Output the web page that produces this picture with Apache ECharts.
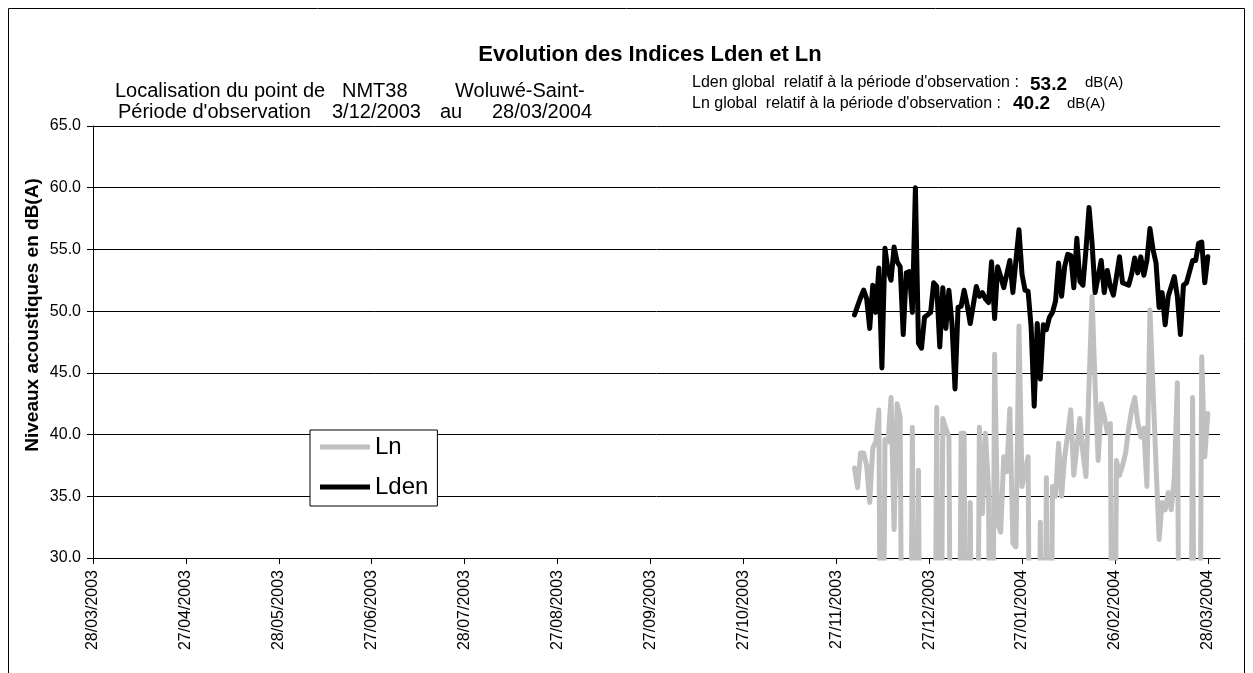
<!DOCTYPE html>
<html><head><meta charset="utf-8">
<script src="https://cdn.jsdelivr.net/npm/echarts@6/dist/echarts.min.js"></script>
<style>html,body{margin:0;padding:0;background:#fff}#c{width:1253px;height:673px}</style>
</head><body><div id="c"></div>
<script>
// Day offsets are counted from 28/03/2003; first measurement 3/12/2003 = day 250
const startDay = 250;
const xTickLabels = ['28/03/2003','27/04/2003','28/05/2003','27/06/2003','28/07/2003','27/08/2003',
  '27/09/2003','27/10/2003','27/11/2003','27/12/2003','27/01/2004','26/02/2004','28/03/2004'];
const yTickLabels = ['30.0','35.0','40.0','45.0','50.0','55.0','60.0','65.0'];
const seriesNames = ['Ln','Lden'];
// Ln (night) daily values, dB(A); 0 = off-scale below 30
const lnValues = [
  37.3, 35.7, 38.5, 38.5, 37.5, 34.5, 38.9, 39.4, 42.0, 0,
  39.6, 39.4, 43.0, 32.3, 42.5, 41.4, 0, 0, 0, 40.6,
  0, 37.1, 0, 0, 0, 0, 0, 42.2, 0, 41.3,
  40.5, 39.8, 0, 0, 0, 40.1, 40.1, 0, 34.5, 0,
  0, 40.6, 33.6, 40.1, 35.6, 0, 46.5, 32.8, 32.1, 38.2,
  37.0, 42.1, 31.2, 30.9, 48.8, 35.8, 37.0, 38.2, 0, 0,
  0, 32.9, 0, 36.5, 0, 35.8, 35.0, 39.3, 35.0, 38.2,
  40.0, 42.0, 36.7, 39.0, 41.3, 38.5, 36.6, 44.0, 51.2, 44.0,
  37.9, 42.5, 41.5, 40.2, 40.9, 0, 37.9, 36.7, 37.5, 38.5,
  40.5, 42.0, 43.0, 41.0, 39.8, 40.5, 35.8, 50.1, 43.8, 37.5,
  31.5, 34.5, 33.9, 35.3, 33.9, 36.5, 44.2, 0, 0, 0,
  0, 43.0, 0, 0, 46.3, 38.2, 41.7
];
// Lden daily values, dB(A)
const ldenValues = [
  49.7, 50.4, 51.1, 51.7, 51.0, 48.6, 52.1, 49.9, 53.5, 45.4,
  55.1, 53.3, 52.5, 55.2, 54.0, 53.6, 48.1, 53.1, 53.2, 49.9,
  60.0, 47.4, 47.0, 49.5, 49.7, 49.9, 52.3, 52.0, 47.1, 51.9,
  48.6, 51.7, 49.0, 43.7, 50.3, 50.4, 51.7, 50.5, 49.0, 50.5,
  52.0, 51.2, 51.5, 51.0, 50.7, 54.0, 49.4, 53.6, 52.8, 51.9,
  53.0, 54.1, 51.5, 54.1, 56.6, 53.0, 51.7, 51.6, 48.7, 42.3,
  49.0, 44.5, 48.9, 48.5, 49.5, 49.9, 50.8, 53.9, 51.2, 53.6,
  54.6, 54.5, 51.9, 55.9, 52.4, 52.1, 55.0, 58.4, 55.5, 51.5,
  52.8, 54.1, 51.5, 53.3, 52.0, 51.3, 52.8, 54.4, 52.3, 52.2,
  52.1, 53.0, 54.3, 53.1, 54.4, 52.9, 54.1, 56.7, 55.0, 53.9,
  50.3, 51.5, 48.9, 51.2, 52.0, 52.8, 51.2, 48.1, 52.1, 52.3,
  53.2, 54.1, 54.1, 55.5, 55.6, 52.3, 54.4
];

const FONT = "'Liberation Sans', Arial, sans-serif";
const TICK_STEP = 30.5; // days between date ticks
const xTickValues = xTickLabels.map((_, i) => i * TICK_STEP);
const toPairs = arr => arr.map((v, i) => [startDay + i, v]);
const txt = (x, y, text, font, extra) => ({type: 'text', x, y,
  style: Object.assign({text, font: font + " 'Liberation Sans', Arial", fill: '#000', verticalAlign: 'middle'}, extra || {})});

const chart = echarts.init(document.getElementById('c'), null, {renderer: 'canvas'});
chart.setOption({
  animation: false,
  backgroundColor: '#fff',
  textStyle: {fontFamily: FONT, color: '#000'},
  grid: {left: 93, right: 33, top: 126, bottom: 115, containLabel: false},
  xAxis: {
    type: 'value', min: 0, max: 370, interval: TICK_STEP,
    axisLine: {show: true, lineStyle: {color: '#000', width: 1}},
    axisTick: {show: true, inside: false, length: 6, lineStyle: {color: '#000'}, customValues: xTickValues},
    splitLine: {show: false},
    axisLabel: {
      rotate: 90, margin: 12, fontSize: 16, fontFamily: FONT, color: '#000',
      customValues: xTickValues,
      formatter: v => {
        const k = Math.round(v / TICK_STEP);
        return Math.abs(v - k * TICK_STEP) < 1e-6 ? (xTickLabels[k] || '') : '';
      }
    }
  },
  yAxis: {
    type: 'value', min: 30, max: 65, interval: 5,
    axisLine: {show: true, lineStyle: {color: '#000', width: 1}},
    axisTick: {show: true, inside: false, length: 6, lineStyle: {color: '#000'}},
    splitLine: {show: true, lineStyle: {color: '#000', width: 1}},
    axisLabel: {
      margin: 12, fontSize: 16, fontFamily: FONT, color: '#000',
      formatter: v => yTickLabels[Math.round((v - 30) / 5)]
    }
  },
  legend: {
    data: seriesNames.map(n => ({name: n, icon: 'rect'})),
    orient: 'vertical',
    left: 310, top: 430,
    padding: [4, 9, 6, 10],
    itemWidth: 50, itemHeight: 5, itemGap: 14,
    backgroundColor: '#fff', borderColor: '#000', borderWidth: 1, borderRadius: 0,
    textStyle: {fontSize: 24, fontFamily: FONT, color: '#000', lineHeight: 26}
  },
  series: [
    {name: seriesNames[0], type: 'line', data: toPairs(lnValues), symbol: 'none', clip: true,
     lineStyle: {color: '#c0c0c0', width: 5, cap: 'round', join: 'round'}, itemStyle: {color: '#c0c0c0'}},
    {name: seriesNames[1], type: 'line', data: toPairs(ldenValues), symbol: 'none', clip: true,
     lineStyle: {color: '#000', width: 5, cap: 'round', join: 'round'}, itemStyle: {color: '#000'}}
  ],
  graphic: [
    {type: 'rect', shape: {x: 8.5, y: 8.5, width: 1236, height: 700}, style: {fill: 'none', stroke: '#000', lineWidth: 1}, z: -1},
    txt(650, 55, 'Evolution des Indices Lden et Ln', 'bold 22px', {align: 'center'}),
    txt(115, 91, 'Localisation du point de', '20px'),
    txt(342, 91, 'NMT38', '20px'),
    txt(455, 91, 'Woluwé-Saint-', '20px'),
    txt(118, 112, "Période d'observation", '20px'),
    txt(332, 112, '3/12/2003', '20px'),
    txt(440, 112, 'au', '20px'),
    txt(492, 112, '28/03/2004', '20px'),
    txt(692, 83, "Lden global  relatif à la période d'observation :", '16px'),
    txt(1030, 85, '53.2', 'bold 19px'),
    txt(1085, 83, 'dB(A)', '15px'),
    txt(692, 104, "Ln global  relatif à la période d'observation :", '16px'),
    txt(1013, 104, '40.2', 'bold 19px'),
    txt(1067, 104, 'dB(A)', '15px'),
    {type: 'text', x: 33, y: 315, rotation: Math.PI / 2, style: {text: 'Niveaux acoustiques en dB(A)', font: "bold 19px 'Liberation Sans', Arial", fill: '#000', align: 'center', verticalAlign: 'middle'}}
  ]
});
</script></body></html>
